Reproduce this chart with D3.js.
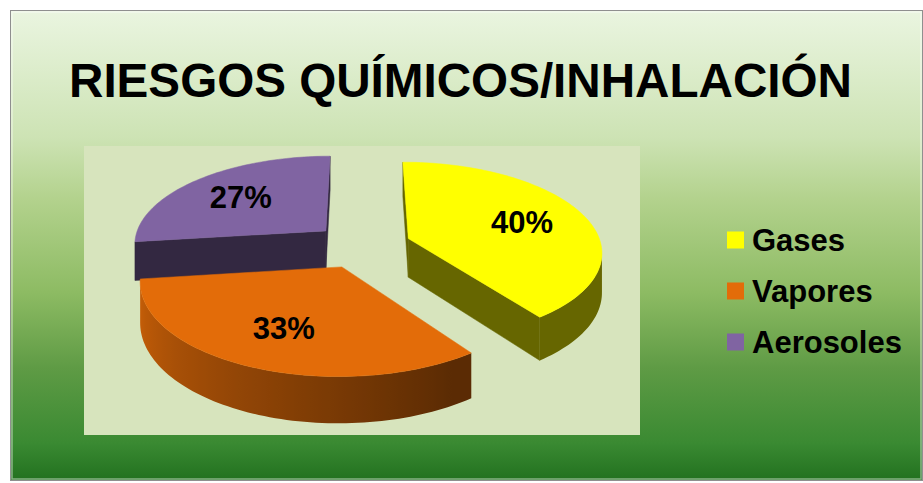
<!DOCTYPE html>
<html>
<head>
<meta charset="utf-8">
<script src="https://cdn.jsdelivr.net/npm/d3@7"></script>
<style>
body { margin: 0; background: #fff; }
svg { display: block; }
text { font-family: "Liberation Sans", Arial, sans-serif; font-weight: bold; fill: #000; }
</style>
</head>
<body>
<div class="chart"></div>
<script>
var title = 'RIESGOS QUÍMICOS/INHALACIÓN';
var categories = ['Gases', 'Vapores', 'Aerosoles'];
var values = [40, 33, 27];

var colors = ['#ffff00', '#e36c09', '#8064a2'];

var width = 923, height = 483;
var plot = { x: 84, y: 146, w: 556, h: 289 };
// 3d pie: centre, radii, thickness, perspective and explode amount
var p3 = { cx: 362, cy: 245.5, rx: 193, ry: 88.5, depth: 39, persp: 0.135, explode: 0.255 };

var svg = d3.select('.chart')
    .append('svg')
    .attr('width', width)
    .attr('height', height);

var defs = svg.append('defs');

var bg = defs.append('linearGradient')
    .attr('id', 'bg')
    .attr('x1', 0).attr('y1', 0).attr('x2', 0).attr('y2', 1);
[[0, '#eaf5e0'], [0.27, '#cde3b4'], [0.4, '#b3d28d'], [0.6, '#8dbb63'],
 [0.76, '#5f9b45'], [0.92, '#3a8a32'], [1, '#22711f']].forEach(function (s) {
    bg.append('stop').attr('offset', s[0]).attr('stop-color', s[1]);
});

// chart area
svg.append('rect')
    .attr('x', 10.5).attr('y', 10.5)
    .attr('width', 912).attr('height', 470)
    .style('fill', 'url(#bg)')
    .style('stroke', '#8f8f8f');
svg.append('rect')
    .attr('x', 12).attr('y', 12)
    .attr('width', 909).attr('height', 467)
    .style('fill', 'none')
    .style('stroke', 'rgba(255,255,255,0.45)')
    .style('stroke-width', 1.5);

// plot area
svg.append('rect')
    .attr('x', plot.x).attr('y', plot.y)
    .attr('width', plot.w).attr('height', plot.h)
    .style('fill', '#d7e4bd');

svg.append('text')
    .attr('x', 460.5)
    .attr('y', 97)
    .attr('text-anchor', 'middle')
    .style('font-size', '48px')
    .attr('textLength', 783)
    .attr('lengthAdjust', 'spacingAndGlyphs')
    .text(title);

var xScale = d3.scaleLinear().domain([-1, 1]).range([p3.cx - p3.rx, p3.cx + p3.rx]);
var yScale = d3.scaleLinear().domain([-1, 1]).range([p3.cy - p3.ry, p3.cy + p3.ry]);
// light on the curved wall, by angle
var shade = d3.scaleLinear().domain([150 * Math.PI / 180, 265 * Math.PI / 180]).range([0.4, 0.9]).clamp(true);

function project(pt, z) {
    var s = 1 / (1 - p3.persp * pt[1]);
    return [p3.cx + (xScale(pt[0]) - p3.cx) * s,
            p3.cy + (yScale(pt[1]) - p3.cy) * s + z * p3.depth * s];
}
function dim(c, k) { return d3.interpolateRgb('#000', c)(k); }
function area(poly) {
    var a = 0;
    for (var i = 0; i < poly.length; i++) {
        var p = poly[i], q = poly[(i + 1) % poly.length];
        a += p[0] * q[1] - q[0] * p[1];
    }
    return a / 2;
}
var line = d3.line().curve(d3.curveLinearClosed);

var total = d3.sum(values);
var arcs = d3.pie().sort(null).value(d => d)(values);

var slices = arcs.map(function (a, i) {
    var mid = (a.startAngle + a.endAngle) / 2;
    var o = [p3.explode * Math.sin(mid), -p3.explode * Math.cos(mid)];
    var n = Math.max(2, Math.ceil((a.endAngle - a.startAngle) / (Math.PI / 120)));
    var rim = d3.range(n + 1).map(function (j) {
        var t = a.startAngle + (a.endAngle - a.startAngle) * j / n;
        return { t: t, p: [Math.sin(t) + o[0], -Math.cos(t) + o[1]] };
    });
    return { i: i, a: a, mid: mid, o: o, rim: rim };
});

slices.sort((a, b) => a.o[1] - b.o[1]);

var g = svg.append('g');

slices.forEach(function (sl) {
    var c = colors[sl.i];
    var sg = g.append('g');
    var centre = sl.o;

    // flat radial walls
    [[centre, sl.rim[0].p], [sl.rim[sl.rim.length - 1].p, centre]].forEach(function (e) {
        var q = [project(e[0], 0), project(e[1], 0), project(e[1], 1), project(e[0], 1)];
        if (area(q) < 0) {
            sg.append('path').attr('d', line(q)).style('fill', dim(c, 0.4)).style('stroke', dim(c, 0.4)).style('stroke-width', 0.5);
        }
    });

    // curved wall, visible runs only
    var runs = [], cur = null;
    for (var j = 0; j < sl.rim.length - 1; j++) {
        var p = sl.rim[j], q = sl.rim[j + 1];
        var quad = [project(p.p, 0), project(q.p, 0), project(q.p, 1), project(p.p, 1)];
        if (area(quad) < 0) {
            if (!cur) { cur = [p]; runs.push(cur); }
            cur.push(q);
        } else cur = null;
    }
    runs.forEach(function (run, k) {
        var tops = run.map(r => project(r.p, 0));
        var bots = run.map(r => project(r.p, 1)).reverse();
        var xs = tops.map(t => t[0]);
        var x0 = d3.min(xs), x1 = d3.max(xs);
        var id = 'wall' + sl.i + '_' + k;
        var grad = defs.append('linearGradient')
            .attr('id', id)
            .attr('gradientUnits', 'userSpaceOnUse')
            .attr('x1', x0).attr('x2', x1 > x0 ? x1 : x0 + 1).attr('y1', 0).attr('y2', 0);
        var stops = run.map(function (r, m) {
            return { off: x1 > x0 ? (tops[m][0] - x0) / (x1 - x0) : 0, col: dim(c, shade(r.t)) };
        }).sort((a, b) => a.off - b.off);
        stops.forEach(function (s) {
            grad.append('stop').attr('offset', s.off).attr('stop-color', s.col);
        });
        sg.append('path')
            .attr('d', line(tops.concat(bots)))
            .style('fill', 'url(#' + id + ')');
    });

    // top face
    var top = [project(centre, 0)].concat(sl.rim.map(r => project(r.p, 0)));
    sg.append('path')
        .attr('d', line(top))
        .style('fill', c)
        .style('stroke', c)
        .style('stroke-width', 0.5);
});

// percentage labels
var fmt = d3.format('.0%');
slices.forEach(function (sl) {
    var r = 0.65;
    var pt = project([r * Math.sin(sl.mid) + sl.o[0], -r * Math.cos(sl.mid) + sl.o[1]], 0);
    g.append('text')
        .attr('x', pt[0])
        .attr('y', pt[1])
        .attr('dy', '0.36em')
        .attr('text-anchor', 'middle')
        .style('font-size', '31px')
        .text(fmt(values[sl.i] / total));
});

// legend
var legend = svg.append('g')
    .selectAll('g')
    .data(categories)
    .enter()
    .append('g')
    .attr('transform', (d, i) => 'translate(727,' + (240 + i * 51) + ')');
legend.append('rect')
    .attr('x', 0).attr('y', -8.5)
    .attr('width', 17).attr('height', 17)
    .style('fill', (d, i) => colors[i]);
legend.append('text')
    .attr('x', 25)
    .attr('dy', '0.36em')
    .style('font-size', '31px')
    .text(d => d);
</script>
</body>
</html>
